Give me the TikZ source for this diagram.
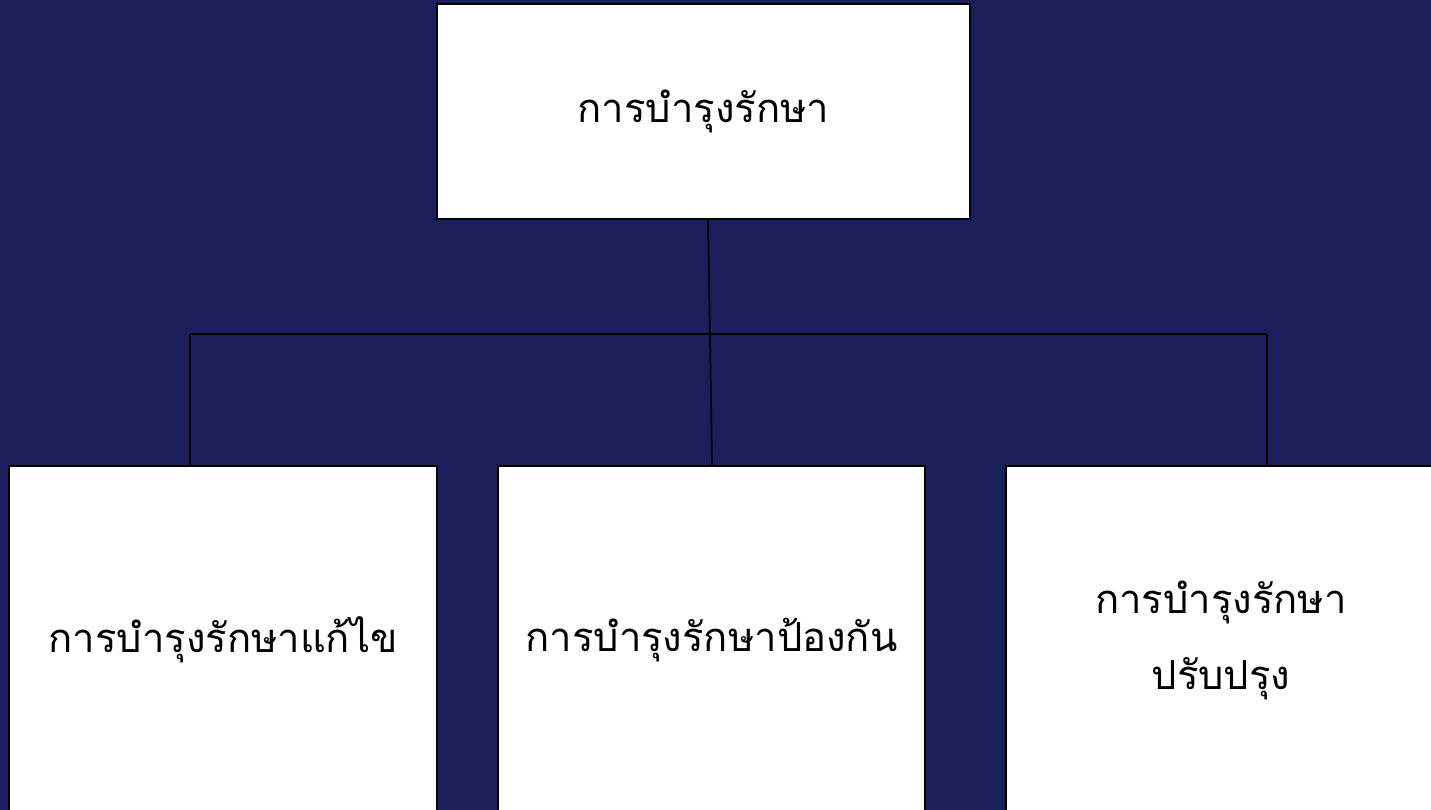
\documentclass[tikz,border=0pt]{standalone}
\usepackage{fontspec}
\newfontfamily\thaifont[Script=Thai]{Loma}
\definecolor{navy}{RGB}{26,31,92}
\begin{document}
\begin{tikzpicture}[x=0.75pt,y=-0.75pt,
  box/.style={draw=black,fill=white,line width=1.3pt,inner sep=0pt,align=center,font=\thaifont\fontsize{30}{57}\selectfont},
  conn/.style={draw=black,line width=1.3pt}]
\fill[navy] (0,0) rectangle (1431,810);
\clip (0,0) rectangle (1431,810);
\node[box,minimum width=0.75*533,minimum height=0.75*215] (top) at (703.5,111.5) {การบำรุงรักษา};
\node[box,minimum width=0.75*428,minimum height=0.75*348] (left) at (223,640) {การบำรุงรักษาแก้ไข};
\node[box,minimum width=0.75*427,minimum height=0.75*348] (mid) at (711.5,640) {การบำรุงรักษาป้องกัน};
\node[box,minimum width=0.75*430,minimum height=0.75*348] (right) at (1221,640) {การบำรุงรักษา\\ปรับปรุง};
\coordinate (hl) at (190,334);
\coordinate (hr) at (1267,334);
\draw[conn] ([xshift=3.4pt]top.south) -- ([xshift=0.4pt]mid.north);
\draw[conn] (hl) -- (hr);
\draw[conn] (hl) -- (left.north -| hl);
\draw[conn] (hr) -- (right.north -| hr);
\end{tikzpicture}
\end{document}
